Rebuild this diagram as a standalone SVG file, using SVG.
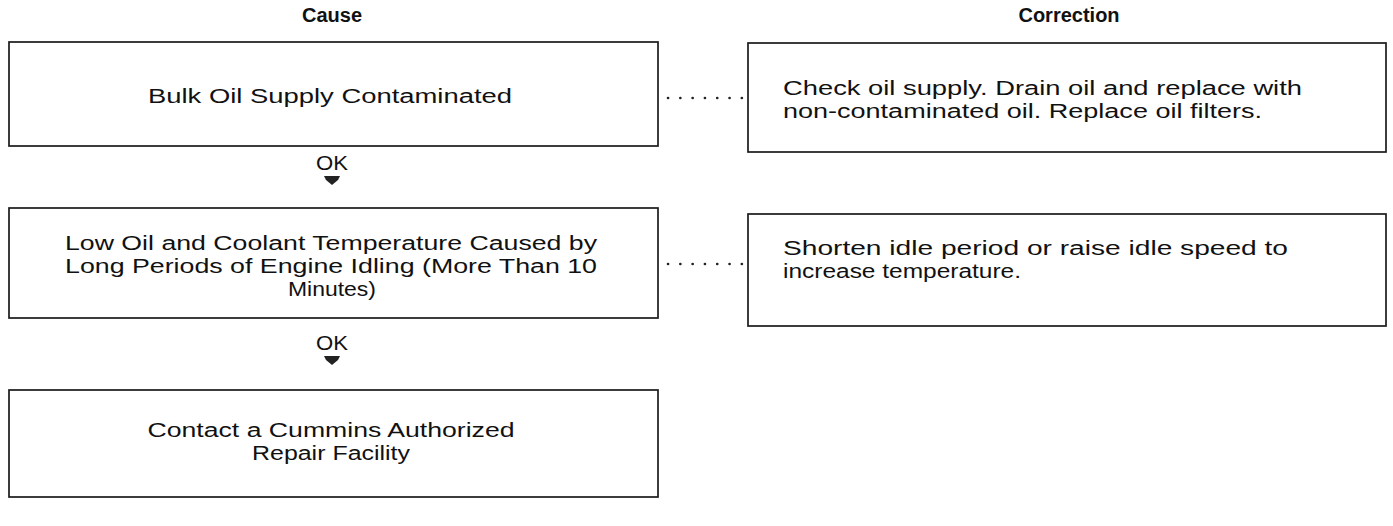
<svg xmlns="http://www.w3.org/2000/svg" width="1393" height="526" viewBox="0 0 1393 526">
<style>
.box{fill:#fff;stroke:#1a1a1a;stroke-width:1.7}
.t{font-family:"Liberation Sans",Arial,sans-serif;font-size:20px;fill:#111}
.h{font-family:"Liberation Sans",Arial,sans-serif;font-size:20px;font-weight:bold;fill:#111;text-anchor:middle}
.c{text-anchor:middle}
.dots{stroke:#222;stroke-width:2.6;stroke-linecap:round;stroke-dasharray:0.1 12.2;fill:none}
.arr{fill:#222;stroke:none}
</style>
<rect width="1393" height="526" fill="#fff"/>
<text class="h" x="332" y="22">Cause</text>
<text class="h" x="1069" y="22">Correction</text>

<g id="cause1">
<rect class="box" x="9" y="42" width="649" height="104"/>
<text class="t c" x="330" y="103" textLength="364" lengthAdjust="spacingAndGlyphs">Bulk Oil Supply Contaminated</text>
</g>
<g id="correction1">
<rect class="box" x="748" y="43" width="638" height="109"/>
<text class="t" x="783" y="95" textLength="519" lengthAdjust="spacingAndGlyphs">Check oil supply. Drain oil and replace with</text>
<text class="t" x="783" y="118" textLength="479" lengthAdjust="spacingAndGlyphs">non-contaminated oil. Replace oil filters.</text>
</g>
<g id="cause2">
<rect class="box" x="9" y="208" width="649" height="110"/>
<text class="t c" x="331" y="250" textLength="532" lengthAdjust="spacingAndGlyphs">Low Oil and Coolant Temperature Caused by</text>
<text class="t c" x="331" y="273" textLength="532" lengthAdjust="spacingAndGlyphs">Long Periods of Engine Idling (More Than 10</text>
<text class="t c" x="332" y="296" textLength="88" lengthAdjust="spacingAndGlyphs">Minutes)</text>
</g>
<g id="correction2">
<rect class="box" x="748" y="214" width="638" height="112"/>
<text class="t" x="783" y="255" textLength="505" lengthAdjust="spacingAndGlyphs">Shorten idle period or raise idle speed to</text>
<text class="t" x="783" y="278" textLength="238" lengthAdjust="spacingAndGlyphs">increase temperature.</text>
</g>
<g id="cause3">
<rect class="box" x="9" y="390" width="649" height="107"/>
<text class="t c" x="331" y="437" textLength="367" lengthAdjust="spacingAndGlyphs">Contact a Cummins Authorized</text>
<text class="t c" x="331" y="460" textLength="158" lengthAdjust="spacingAndGlyphs">Repair Facility</text>
</g>

<g id="connectors">
<line class="dots" x1="668" y1="98" x2="742" y2="98"/>
<line class="dots" x1="668" y1="264" x2="742" y2="264"/>
<text class="t c" x="332" y="170" textLength="32" lengthAdjust="spacingAndGlyphs">OK</text>
<path class="arr" d="M324,176 L340,176 L338,180 L332,185 L326,180 Z"/>
<text class="t c" x="332" y="350" textLength="32" lengthAdjust="spacingAndGlyphs">OK</text>
<path class="arr" d="M324,356 L340,356 L338,360 L332,365 L326,360 Z"/>
</g>
</svg>
